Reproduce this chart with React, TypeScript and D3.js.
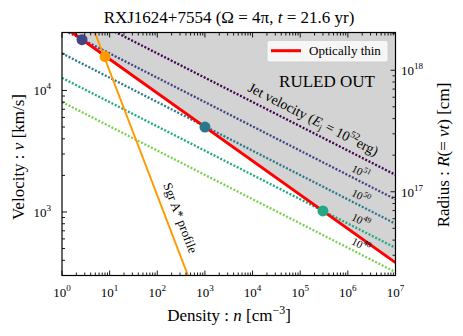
import React from "react";
import * as d3 from "d3";

// axis ranges
const nDomain: [number, number] = [1, 1e7];
const vDomain: [number, number] = [300, 30000];
const tYears = 21.6;
const yearSec = 3.156e7;

// jet velocity lines, v [km/s] read at n = 1 and n = 1e7
const jetExp = ["52", "51", "50", "49", "48"];
const jetColors = ["#440154", "#414487", "#2a788e", "#22a884", "#7ad151"];
const jetVStart = [50700, 32000, 20200, 12700, 8040];
const jetVEnd = [2020, 1270, 800, 507, 320];
const lineN = [1, 1e7];

// optically thin boundary (v at n = 1 and n = 1e7)
const thinV = [34400, 383];

// Sgr A* profile
const sgrN = [4.9, 440];
const sgrV = [30000, 300];

// marked crossings
const markN = [2.63, 8.0, 1000, 3.0e5];
const markV = [26200, 19000, 5000, 1020];
const markColors = ["#414487", "#ff9900", "#2a788e", "#22a884"];

const W = 463;
const H = 336;
const left = 62;
const right = 395.5;
const top = 32.5;
const bottom = 275.5;
const font = "'Liberation Serif', 'Times New Roman', serif";

const isMajor = (v: number) => Math.abs(Math.log10(v) - Math.round(Math.log10(v))) < 1e-6;

function Pow({ x, y, exp, anchor, fs = 13 }: any) {
  return (
    <text x={x} y={y} textAnchor={anchor} fontSize={fs} fontFamily={font}>
      10<tspan dy={-6} fontSize={fs * 0.7}>{exp}</tspan>
    </text>
  );
}

export default function App() {
  const x = d3.scaleLog().domain(nDomain).range([left, right]);
  const y = d3.scaleLog().domain(vDomain).range([bottom, top]);
  const rDomain = vDomain.map((v) => v * 1e5 * tYears * yearSec);
  const yR = d3.scaleLog().domain(rDomain).range([bottom, top]);

  const line = d3
    .line<[number, number]>()
    .x((d) => x(d[0]))
    .y((d) => y(d[1]));

  const thinPts: [number, number][] = lineN.map((n, i) => [n, thinV[i]]);
  const area = d3
    .area<[number, number]>()
    .x((d) => x(d[0]))
    .y0(top)
    .y1((d) => y(d[1]));

  const xTicks = x.ticks();
  const yTicks = y.ticks();
  const rTicks = yR.ticks();

  const jetAngle =
    (Math.atan2(y(jetVEnd[0]) - y(jetVStart[0]), x(lineN[1]) - x(lineN[0])) * 180) / Math.PI;
  const sgrAngle =
    (Math.atan2(y(sgrV[1]) - y(sgrV[0]), x(sgrN[1]) - x(sgrN[0])) * 180) / Math.PI;

  const onLine = (i: number, px: number) => {
    const t = (px - x(lineN[0])) / (x(lineN[1]) - x(lineN[0]));
    return y(jetVStart[i]) + t * (y(jetVEnd[i]) - y(jetVStart[i]));
  };

  return (
    <svg width={W} height={H} style={{ position: "absolute", left: 0, top: 0, background: "white" }}>
      <defs>
        <clipPath id="plot">
          <rect x={left} y={top} width={right - left} height={bottom - top} />
        </clipPath>
      </defs>

      <g clipPath="url(#plot)">
        <path d={area(thinPts) || ""} fill="#d3d3d3" />
        {jetExp.map((e, i) => (
          <path
            key={e}
            d={line([[lineN[0], jetVStart[i]], [lineN[1], jetVEnd[i]]]) || ""}
            stroke={jetColors[i]}
            strokeWidth={2.3}
            strokeDasharray="2,1.7"
            fill="none"
          />
        ))}
        <path d={line(thinPts) || ""} stroke="#ff0000" strokeWidth={3} fill="none" />
        <path
          d={line(sgrN.map((n, i) => [n, sgrV[i]] as [number, number])) || ""}
          stroke="#ff9900"
          strokeWidth={2}
          fill="none"
        />
        {markN.map((n, i) => (
          <circle key={i} cx={x(n)} cy={y(markV[i])} r={5.5} fill={markColors[i]} />
        ))}
      </g>

      {/* line labels */}
      <text
        transform={`translate(313,${onLine(0, 313) - 13}) rotate(${jetAngle})`}
        textAnchor="middle"
        fontSize={14}
        fontFamily={font}
        dy={4}
      >
        Jet velocity (<tspan fontStyle="italic">E</tspan>
        <tspan fontSize={9} dy={3}>j</tspan>
        <tspan dy={-3}> = 10</tspan>
        <tspan fontSize={9.5} dy={-6}>52</tspan>
        <tspan dy={6}>erg)</tspan>
      </text>
      {jetExp.slice(1).map((e, k) => (
        <text
          key={e}
          transform={`translate(361,${onLine(k + 1, 361) - 10}) rotate(${jetAngle})`}
          textAnchor="middle"
          fontSize={11}
          fontFamily={font}
          dy={4}
        >
          10<tspan fontSize={8} dy={-5}>{e}</tspan>
        </text>
      ))}
      <text
        transform={`translate(180,218) rotate(${sgrAngle})`}
        textAnchor="middle"
        fontSize={13}
        fontFamily={font}
        dy={4}
      >
        Sgr A* profile
      </text>
      <text x={327} y={87} textAnchor="middle" fontSize={17} fontFamily={font}>
        RULED OUT
      </text>

      {/* legend */}
      <rect x={267} y={40.5} width={121} height={21.5} rx={2.5} fill="white" fillOpacity={0.8} stroke="#cccccc" strokeWidth={0.8} />
      <line x1={271} x2={301} y1={50.7} y2={50.7} stroke="#ff0000" strokeWidth={3} />
      <text x={309} y={55} fontSize={13} fontFamily={font}>
        Optically thin
      </text>

      {/* frame and ticks */}
      <rect x={left} y={top} width={right - left} height={bottom - top} fill="none" stroke="black" strokeWidth={1.2} />
      {xTicks.map((t, i) => {
        const len = isMajor(t) ? 5 : 3;
        return (
          <g key={"x" + i}>
            <line x1={x(t)} x2={x(t)} y1={bottom} y2={bottom - len} stroke="black" strokeWidth={0.9} />
            <line x1={x(t)} x2={x(t)} y1={top} y2={top + len} stroke="black" strokeWidth={0.9} />
            {isMajor(t) && <Pow x={x(t)} y={297} exp={String(Math.round(Math.log10(t)))} anchor="middle" />}
          </g>
        );
      })}
      {yTicks.map((t, i) => {
        const len = isMajor(t) ? 5 : 3;
        return (
          <g key={"y" + i}>
            <line x1={left} x2={left + len} y1={y(t)} y2={y(t)} stroke="black" strokeWidth={0.9} />
            {isMajor(t) && <Pow x={51} y={y(t) + 5} exp={String(Math.round(Math.log10(t)))} anchor="end" />}
          </g>
        );
      })}
      {rTicks.map((t, i) => {
        const len = isMajor(t) ? 5 : 3;
        return (
          <g key={"r" + i}>
            <line x1={right} x2={right - len} y1={yR(t)} y2={yR(t)} stroke="black" strokeWidth={0.9} />
            {isMajor(t) && <Pow x={401} y={yR(t) + 5} exp={String(Math.round(Math.log10(t)))} anchor="start" />}
          </g>
        );
      })}

      {/* titles */}
      <text x={229} y={22.5} textAnchor="middle" fontSize={17} fontFamily={font}>
        RXJ1624+7554 (Ω = 4π, <tspan fontStyle="italic">t</tspan> = 21.6 yr)
      </text>
      <text x={229} y={321} textAnchor="middle" fontSize={17} fontFamily={font}>
        Density : <tspan fontStyle="italic">n</tspan> [cm<tspan fontSize={12} dy={-7}>−3</tspan>
        <tspan dy={7}>]</tspan>
      </text>
      <text transform="translate(24,157) rotate(-90)" textAnchor="middle" fontSize={17} fontFamily={font}>
        Velocity : <tspan fontStyle="italic">v</tspan> [km/s]
      </text>
      <text transform="translate(449,155) rotate(-90)" textAnchor="middle" fontSize={17} fontFamily={font}>
        Radius : <tspan fontStyle="italic">R</tspan>(= <tspan fontStyle="italic">vt</tspan>) [cm]
      </text>
    </svg>
  );
}
